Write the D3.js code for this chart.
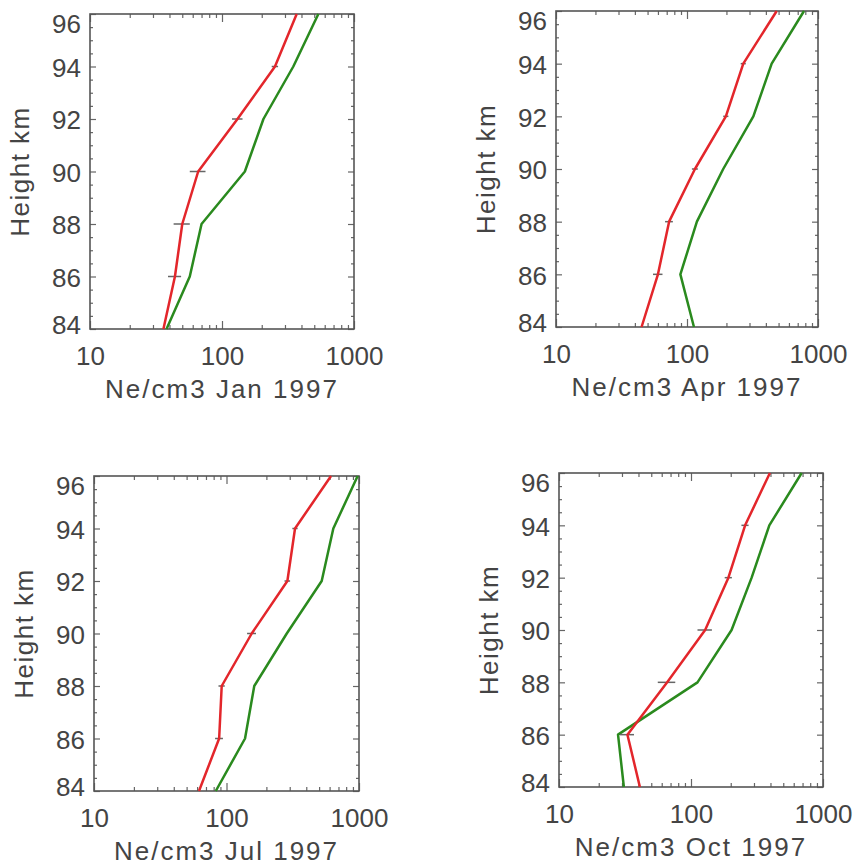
<!DOCTYPE html>
<html>
<head>
<meta charset="utf-8">
<script src="https://cdn.jsdelivr.net/npm/d3@7"></script>
<style>
  body { margin: 0; background: #fff; }
  svg text { font-family: "Liberation Sans", Arial, sans-serif; fill: #444; }
</style>
</head>
<body>
<div id="chart"></div>
<script>
// heights of the profile points (km)
var heights = [84, 86, 88, 90, 92, 94, 96];

// electron density, Ne/cm3 (index matches heights)
var janRed   = [36, 44, 50, 66, 131, 252, 368];
var janGreen = [38, 57, 70, 149, 206, 347, 537];
var janErr   = [null, 5, 7, 9, 12, 14, null];

var aprRed   = [45, 60, 73, 115, 198, 269, 484];
var aprGreen = [113, 89, 119, 189, 321, 443, 782];
var aprErr   = [null, 5, 5, 6, 9, 12, null];

var julRed   = [62, 88, 92, 155, 288, 329, 615];
var julGreen = [83, 138, 162, 285, 523, 640, 977];
var julErr   = [null, 6, 5, 12, 14, 15, null];

var octRed   = [41, 33, 66, 128, 192, 257, 396];
var octGreen = [31, 28, 112, 203, 288, 392, 689];
var octErr   = [null, 4, 10, 16, 12, 16, null];

var xTickValues = [10, 100, 1000];
var yTickValues = [84, 86, 88, 90, 92, 94, 96];

var panels = [
  {label: "Ne/cm3 Jan 1997", red: janRed, green: janGreen, err: janErr, x0: 90,  x1: 354, y0: 14,  y1: 329},
  {label: "Ne/cm3 Apr 1997", red: aprRed, green: aprGreen, err: aprErr, x0: 556, x1: 818, y0: 11,  y1: 327},
  {label: "Ne/cm3 Jul 1997", red: julRed, green: julGreen, err: julErr, x0: 94,  x1: 359, y0: 476, y1: 791},
  {label: "Ne/cm3 Oct 1997", red: octRed, green: octGreen, err: octErr, x0: 559, x1: 823, y0: 473, y1: 787}
];

var svg = d3.select("#chart")
    .append("svg")
    .attr("width", 857)
    .attr("height", 866);

var redColor = "#e3262b",
    greenColor = "#2a8a1e",
    axisColor = "#555";

panels.forEach(function(p) {
    var width = p.x1 - p.x0,
        height = p.y1 - p.y0;

    var g = svg.append("g")
        .attr("transform", "translate(" + p.x0 + "," + p.y0 + ")");

    var x = d3.scaleLog()
        .domain([10, 1000])
        .range([0, width]);

    var y = d3.scaleLinear()
        .domain([84, 96])
        .range([height, 0]);

    var minorX = x.ticks().filter(function(d) { return xTickValues.indexOf(d) < 0; });
    var minorY = d3.range(84, 96.01, 0.5).filter(function(d) { return d % 2 !== 0; });

    // minor ticks, pointing inside, on all four sides
    g.append("g").attr("class", "minor")
        .attr("transform", "translate(0," + height + ")")
        .call(d3.axisBottom(x).tickValues(minorX).tickSize(-4).tickFormat(""));
    g.append("g").attr("class", "minor")
        .call(d3.axisTop(x).tickValues(minorX).tickSize(-4).tickFormat(""));
    g.append("g").attr("class", "minor")
        .call(d3.axisLeft(y).tickValues(minorY).tickSize(-3).tickFormat(""));
    g.append("g").attr("class", "minor")
        .attr("transform", "translate(" + width + ",0)")
        .call(d3.axisRight(y).tickValues(minorY).tickSize(-3).tickFormat(""));

    // major ticks with labels
    g.append("g").attr("class", "major")
        .attr("transform", "translate(0," + height + ")")
        .call(d3.axisBottom(x).tickValues(xTickValues).tickSize(-8).tickPadding(18)
            .tickFormat(d3.format("d")));
    g.append("g").attr("class", "major")
        .call(d3.axisTop(x).tickValues(xTickValues).tickSize(-8).tickFormat(""));
    var yAxisG = g.append("g").attr("class", "major")
        .call(d3.axisLeft(y).tickValues(yTickValues).tickSize(-6).tickPadding(9)
            .tickFormat(d3.format("d")));
    g.append("g").attr("class", "major")
        .attr("transform", "translate(" + width + ",0)")
        .call(d3.axisRight(y).tickValues(yTickValues).tickSize(-6).tickFormat(""));

    // end labels are nudged inside the frame, like the original plot
    yAxisG.selectAll(".tick text")
        .attr("y", function(d) { return d === 96 ? 10 : (d === 84 ? -4 : 1.5); });

    g.selectAll(".domain").remove();
    g.selectAll(".tick line").attr("stroke", "#666").attr("stroke-width", 1.2);
    g.selectAll(".tick text")
        .style("font-size", "26px")
        .style("font-family", "'Liberation Sans', Arial, sans-serif")
        .attr("fill", "#444");

    // frame
    g.append("rect")
        .attr("width", width)
        .attr("height", height)
        .attr("fill", "none")
        .attr("stroke", axisColor)
        .attr("stroke-width", 1.6);

    var line = d3.line()
        .x(function(d) { return x(d[1]); })
        .y(function(d) { return y(d[0]); });

    g.append("path")
        .datum(heights.map(function(h, i) { return [h, p.green[i]]; }))
        .attr("d", line)
        .attr("fill", "none")
        .attr("stroke", greenColor)
        .attr("stroke-width", 2.5)
        .attr("stroke-linejoin", "round");

    // error bars on the red profile
    var errData = heights.map(function(h, i) { return {h: h, v: p.red[i], e: p.err[i]}; })
        .filter(function(d) { return d.e !== null; });

    g.selectAll(".errbar")
        .data(errData)
        .enter().append("line")
        .attr("class", "errbar")
        .attr("x1", function(d) { return x(d.v - d.e); })
        .attr("x2", function(d) { return x(d.v + d.e); })
        .attr("y1", function(d) { return y(d.h); })
        .attr("y2", function(d) { return y(d.h); })
        .attr("stroke", "#666")
        .attr("stroke-width", 1.5);

    g.append("path")
        .datum(heights.map(function(h, i) { return [h, p.red[i]]; }))
        .attr("d", line)
        .attr("fill", "none")
        .attr("stroke", redColor)
        .attr("stroke-width", 2.5)
        .attr("stroke-linejoin", "round");

    // axis titles
    g.append("text")
        .attr("x", width / 2)
        .attr("y", height + 69)
        .style("text-anchor", "middle")
        .style("font-size", "26px")
        .style("letter-spacing", "2px")
        .text(p.label);

    g.append("text")
        .attr("transform", "translate(-61," + (height / 2) + ") rotate(-90)")
        .style("text-anchor", "middle")
        .style("font-size", "26px")
        .style("letter-spacing", "1.5px")
        .text("Height km");
});
</script>
</body>
</html>
